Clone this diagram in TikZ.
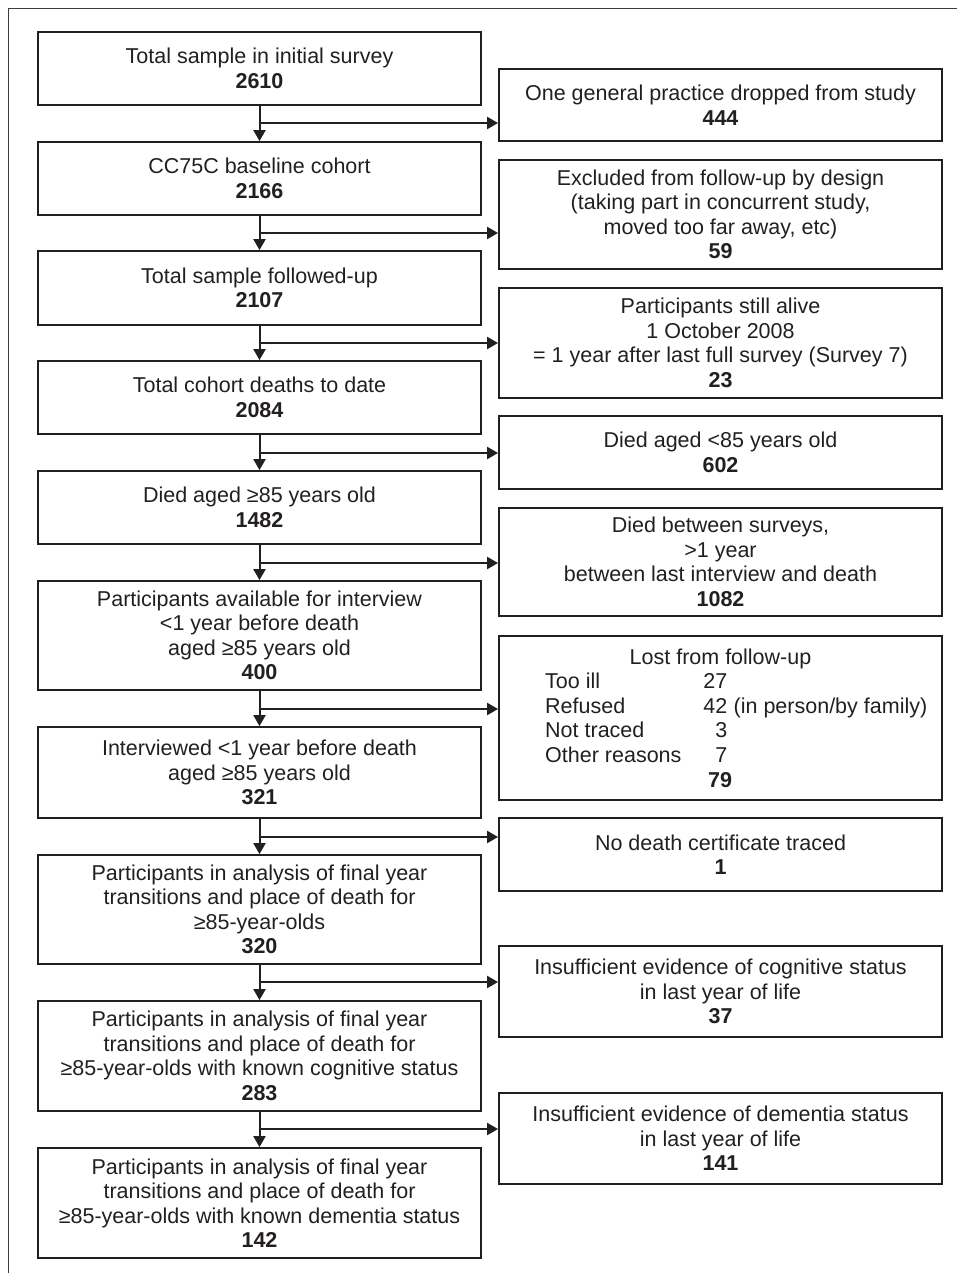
\documentclass[tikz,border=0pt]{standalone}
\usepackage{fontspec}
\setmainfont{Liberation Sans}
\usetikzlibrary{arrows.meta}
\definecolor{ink}{RGB}{35,31,32}
\definecolor{framec}{RGB}{60,60,60}
\begin{document}
\begin{tikzpicture}[x=1pt,y=-1pt,
  every node/.style={text=ink},
  fc/.style={font=\fontsize{21.5}{24.5}\selectfont},
  box/.style={draw=ink, line width=1.8pt, minimum width=443pt, inner sep=0pt,
              align=center, fc},
  arr/.style={draw=ink, line width=2pt, -{Triangle[length=11pt,width=12pt]}},
  txt/.style={fc, inner sep=0pt, anchor=base west}
]
\useasboundingbox (0,0) rectangle (957,1273);
\draw[framec, line width=1pt] (8,1273) -- (8,9) -- (957,9);

% left column
\node[box, minimum height=73pt]  (L1)  at (259.5,68.5)  {Total sample in initial survey\\\textbf{2610}};
\node[box, minimum height=73pt]  (L2)  at (259.5,178.5) {CC75C baseline cohort\\\textbf{2166}};
\node[box, minimum height=74pt]  (L3)  at (259.5,288)   {Total sample followed-up\\\textbf{2107}};
\node[box, minimum height=73pt]  (L4)  at (259.5,397.5) {Total cohort deaths to date\\\textbf{2084}};
\node[box, minimum height=73pt]  (L5)  at (259.5,507.5) {Died aged ≥85 years old\\\textbf{1482}};
\node[box, minimum height=109pt] (L6)  at (259.5,635.5) {Participants available for interview\\<1 year before death\\aged ≥85 years old\\\textbf{400}};
\node[box, minimum height=91pt]  (L7)  at (259.5,772.5) {Interviewed <1 year before death\\aged ≥85 years old\\\textbf{321}};
\node[box, minimum height=109pt] (L8)  at (259.5,909.5) {Participants in analysis of final year\\transitions and place of death for\\≥85-year-olds\\\textbf{320}};
\node[box, minimum height=110pt] (L9)  at (259.5,1056)  {Participants in analysis of final year\\transitions and place of death for\\≥85-year-olds with known cognitive status\\\textbf{283}};
\node[box, minimum height=110pt] (L10) at (259.5,1203)  {Participants in analysis of final year\\transitions and place of death for\\≥85-year-olds with known dementia status\\\textbf{142}};

% right column
\node[box, minimum height=72pt]  (R1) at (720.5,105)   {One general practice dropped from study\\\textbf{444}};
\node[box, minimum height=109pt] (R2) at (720.5,214.5) {Excluded from follow-up by design\\(taking part in concurrent study,\\moved too far away, etc)\\\textbf{59}};
\node[box, minimum height=110pt] (R3) at (720.5,343)   {Participants still alive\\1 October 2008\\= 1 year after last full survey (Survey 7)\\\textbf{23}};
\node[box, minimum height=73pt]  (R4) at (720.5,452.5) {Died aged <85 years old\\\textbf{602}};
\node[box, minimum height=108pt] (R5) at (720.5,562)   {Died between surveys,\\>1 year\\between last interview and death\\\textbf{1082}};
\node[box, minimum height=164pt] (R6) at (720.5,718)   {};
\node[box, minimum height=73pt]  (R7) at (720.5,854.5) {No death certificate traced\\\textbf{1}};
\node[box, minimum height=91pt]  (R8) at (720.5,991.5) {Insufficient evidence of cognitive status\\in last year of life\\\textbf{37}};
\node[box, minimum height=91pt]  (R9) at (720.5,1138.5){Insufficient evidence of dementia status\\in last year of life\\\textbf{141}};

% contents of the lost-from-follow-up box
\node[fc, inner sep=0pt, anchor=base] (t0) at (720.5,664) {Lost from follow-up};
\node[txt] (a1) at (545,688) {Too ill};
\node[txt] (a2) at (545,713) {Refused};
\node[txt] (a3) at (545,737) {Not traced};
\node[txt] (a4) at (545,762) {Other reasons};
\node[fc, inner sep=0pt, anchor=base east] (n1) at (727.5,688) {27};
\node[fc, inner sep=0pt, anchor=base east] (n2) at (727.5,713) {42};
\node[fc, inner sep=0pt, anchor=base east] (n3) at (727.5,737) {3};
\node[fc, inner sep=0pt, anchor=base east] (n4) at (727.5,762) {7};
\node[txt] (n2b) at (n2.base east) {\ (in person/by family)};
\node[fc, inner sep=0pt, anchor=base] (tot) at (720,787) {\textbf{79}};

% branch points
\coordinate (b1) at (259.5,123);
\coordinate (b2) at (259.5,233);
\coordinate (b3) at (259.5,343);
\coordinate (b4) at (259.5,453);
\coordinate (b5) at (259.5,563);
\coordinate (b6) at (259.5,709);
\coordinate (b7) at (259.5,837);
\coordinate (b8) at (259.5,982);
\coordinate (b9) at (259.5,1129);

% vertical arrows
\foreach \a/\b in {L1/L2,L2/L3,L3/L4,L4/L5,L5/L6,L6/L7,L7/L8,L8/L9,L9/L10}
  \draw[arr] (\a.south) -- (\b.north);

% side arrows
\foreach \p/\r in {b1/R1,b2/R2,b3/R3,b4/R4,b5/R5,b6/R6,b7/R7,b8/R8,b9/R9}
  \draw[arr] (\p) -- (\p -| \r.west);
\end{tikzpicture}
\end{document}
